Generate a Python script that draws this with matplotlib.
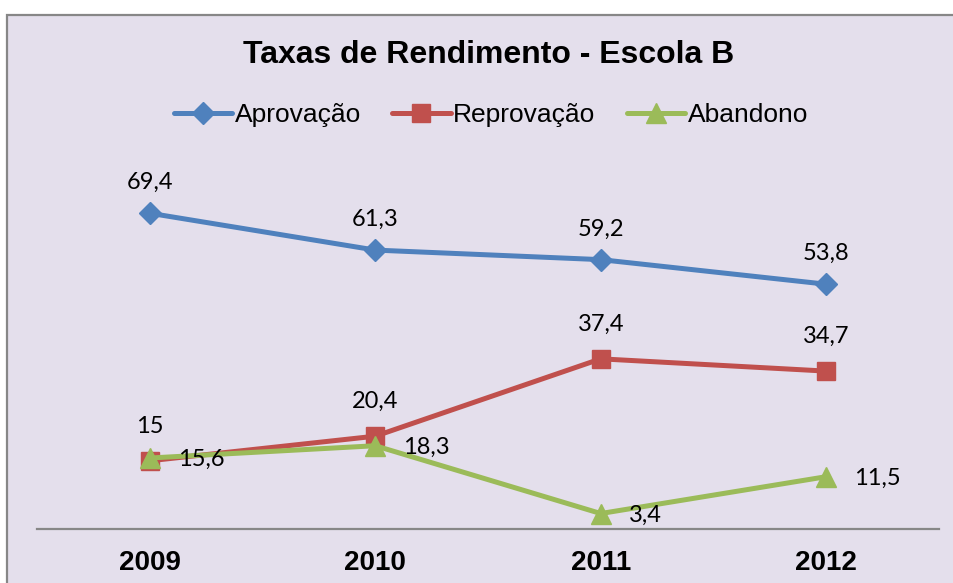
#!/usr/bin/env python3
import numpy as np
import matplotlib.pyplot as plt
from matplotlib.patches import Rectangle

# -----------------------------
# Data
# -----------------------------
years = ["2009", "2010", "2011", "2012"]
aprovacao = [69.4, 61.3, 59.2, 53.8]
reprovacao = [15.0, 20.4, 37.4, 34.7]
abandono = [15.6, 18.3, 3.4, 11.5]

BG = "#E4DFEC"
W, H = 954, 583


def fmt(v):
    s = f"{v:g}"
    return s.replace(".", ",")


def main():
    fig = plt.figure(figsize=(W / 100, H / 100), dpi=100)
    fig.patch.set_facecolor("white")

    # chart frame (left and top border visible, rest cut off)
    frame = Rectangle((7 / W, -0.2), 1.2, (H - 15) / H + 0.2,
                      transform=fig.transFigure, facecolor=BG,
                      edgecolor="#878787", linewidth=1.6, zorder=-5)
    fig.patches.append(frame)

    ax = fig.add_axes([37 / W, (H - 529) / H, 902 / W, (529 - 165) / H])
    ax.set_facecolor("none")
    ax.set_zorder(2)

    x = np.arange(len(years))
    series = [
        ("Aprovação", aprovacao, "#4F81BD", "D", 11),
        ("Reprovação", reprovacao, "#C0504D", "s", 13),
        ("Abandono", abandono, "#9BBB59", "^", 14),
    ]
    for name, vals, color, mk, ms in series:
        ax.plot(x, vals, color=color, lw=3.6, marker=mk, markersize=ms,
                markerfacecolor=color, markeredgecolor=color, label=name,
                solid_capstyle="round", zorder=3)

    lab_font = dict(fontsize=17, family=["Lato", "DejaVu Sans"], color="black")
    for xi, v in zip(x, aprovacao):
        ax.annotate(fmt(v), (xi, v), xytext=(0, 22), textcoords="offset points",
                    ha="center", va="center", **lab_font)
    for xi, v in zip(x, reprovacao):
        ax.annotate(fmt(v), (xi, v), xytext=(0, 25), textcoords="offset points",
                    ha="center", va="center", **lab_font)
    for xi, v in zip(x, abandono):
        ax.annotate(fmt(v), (xi, v), xytext=(20, -1), textcoords="offset points",
                    ha="left", va="center", **lab_font)

    ax.set_xlim(-0.5, len(years) - 0.5)
    ax.set_ylim(0, 80)
    ax.set_yticks([])
    ax.set_xticks(x)
    ax.set_xticklabels(years, fontsize=20, fontweight="bold",
                       family=["Liberation Sans", "DejaVu Sans"])
    ax.tick_params(axis="x", length=0, pad=15)
    for side in ["left", "right", "top"]:
        ax.spines[side].set_visible(False)
    ax.spines["bottom"].set_color("#878787")
    ax.spines["bottom"].set_linewidth(1.6)

    fig.text(489 / W, 1 - 55 / H, "Taxas de Rendimento - Escola B",
             ha="center", va="center", fontsize=23, fontweight="bold",
             family=["Liberation Sans", "DejaVu Sans"])

    fig.legend(loc="center", bbox_to_anchor=(491 / W, 1 - 115 / H), ncol=3,
               frameon=False, handlelength=2.2, handletextpad=0.1,
               columnspacing=1.2,
               prop=dict(family=["Liberation Sans", "DejaVu Sans"], size=19))

    fig.savefig("out.png", dpi=100, facecolor=fig.get_facecolor())
    plt.close(fig)


if __name__ == "__main__":
    main()
